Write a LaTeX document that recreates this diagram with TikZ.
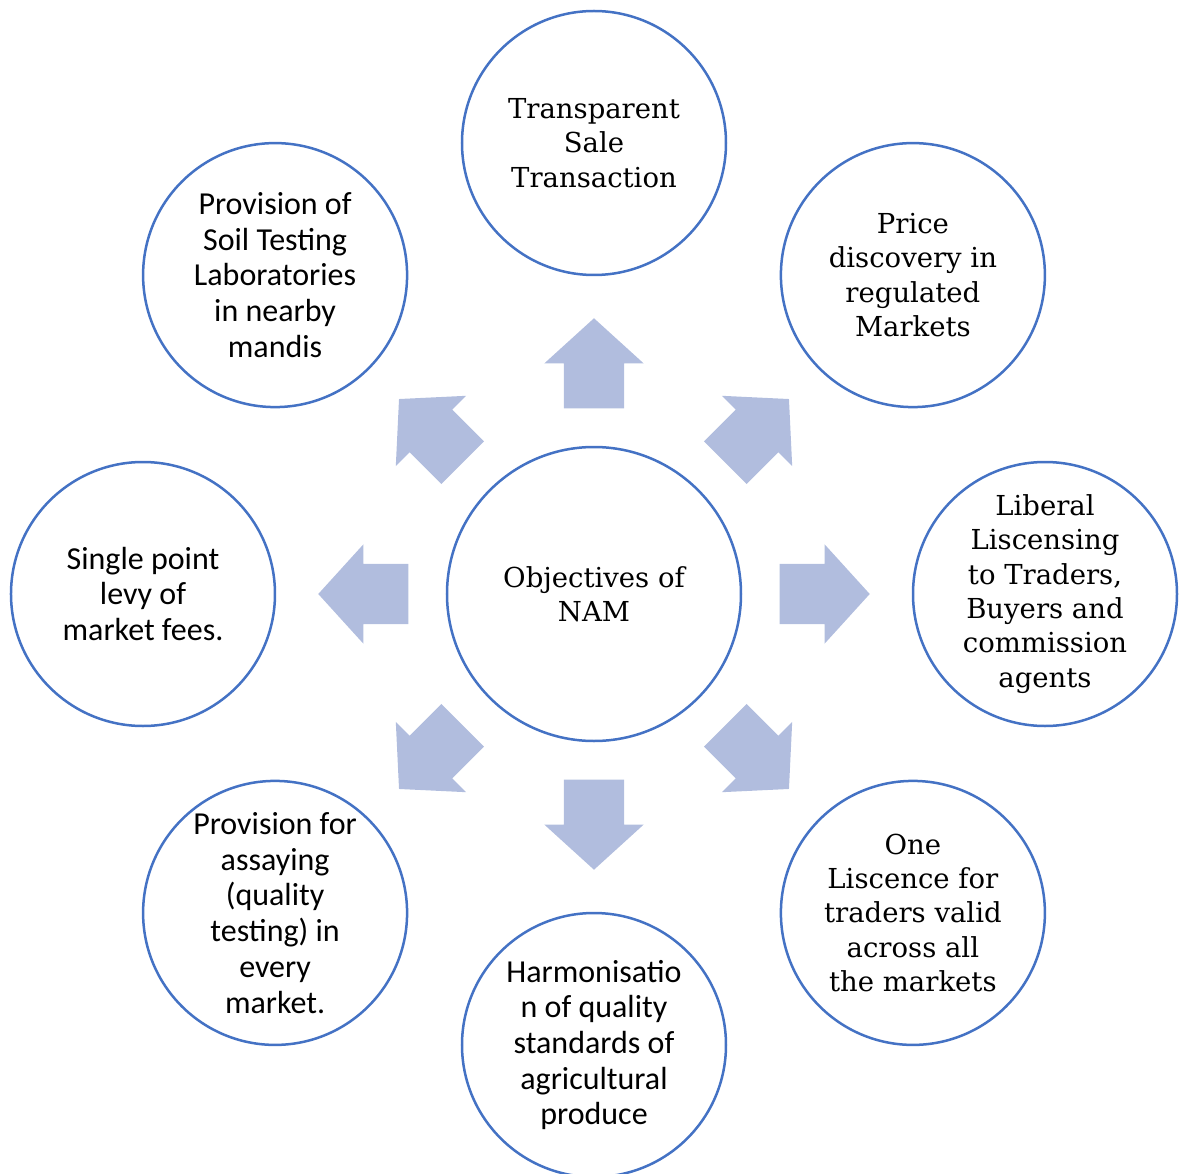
\documentclass[tikz,border=0pt]{standalone}
\usepackage{fontspec}
\setmainfont{DejaVu Serif}
\setsansfont{Carlito}
\usetikzlibrary{shapes.arrows}
\definecolor{ringblue}{HTML}{4472C4}
\definecolor{arrowblue}{HTML}{B1BDDE}
\tikzset{
  x=1pt, y=1pt,
  bubble/.style={circle, draw=ringblue, line width=2.5pt, minimum size=264pt, inner sep=0pt, align=center, fill=white},
  serifbubble/.style={bubble, font=\fontsize{27.5}{34.4}\selectfont},
  sansbubble/.style={bubble, font=\sffamily\fontsize{32}{35.7}\selectfont},
  blockarrow/.style={single arrow, fill=arrowblue, draw=none, inner sep=0pt,
    minimum height=90pt, single arrow head extend=19.5pt,
    single arrow tip angle=95.5, anchor=tip}
}
\begin{document}
\begin{tikzpicture}
\useasboundingbox (-594,-579) rectangle (589,594);
% centre
\node[serifbubble, minimum size=294pt] (c) at (0,0) {Objectives of\\NAM};
% outer circles
\node[serifbubble] (t) at (90:451) {Transparent\\Sale\\Transaction};
\node[serifbubble] (tr) at (45:451) {Price\\discovery in\\regulated\\Markets};
\node[serifbubble] (r) at (0:451) {Liberal\\Liscensing\\to Traders,\\Buyers and\\commission\\agents};
\node[serifbubble] (br) at (-45:451) {One\\Liscence for\\traders valid\\across all\\the markets};
\node[sansbubble] (b) at (-90:451) {Harmonisatio\\n of quality\\standards of\\agricultural\\produce};
\node[sansbubble] (bl) at (-135:451) {Provision for\\assaying\\(quality\\testing) in\\every\\market.};
\node[sansbubble] (l) at (180:451) {Single point\\levy of\\market fees.};
\node[sansbubble] (tl) at (135:451) {Provision of\\Soil Testing\\Laboratories\\in nearby\\mandis};
% block arrows
\foreach \a/\n in {90/at, 45/atr, 0/ar, -45/abr, -90/ab, -135/abl, 180/al, 135/atl}
  \node[blockarrow, rotate=\a] (\n) at (\a:276) {\rule{0pt}{60pt}};
\end{tikzpicture}
\end{document}
